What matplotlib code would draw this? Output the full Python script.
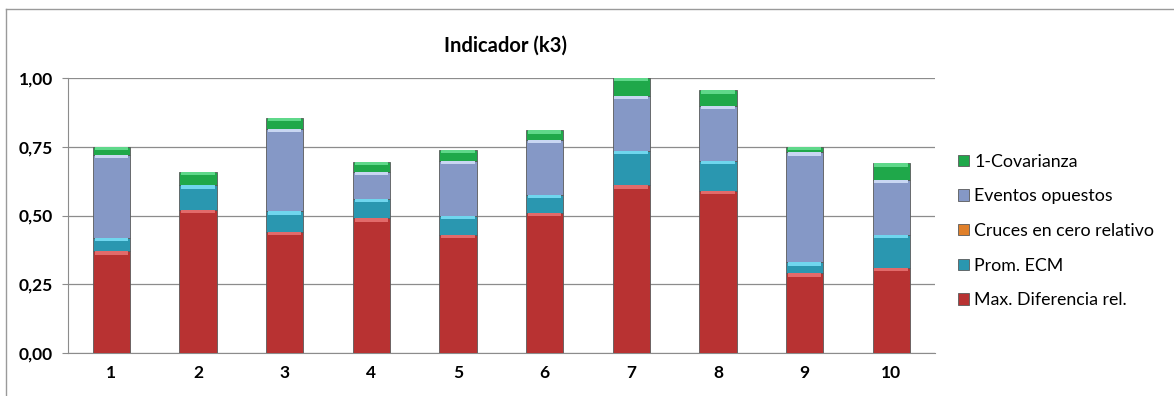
# Stacked bar chart of indicator k3 components per case
import matplotlib.pyplot as plt
import matplotlib.patches as mpatches
from matplotlib.lines import Line2D
import numpy as np

plt.rcParams['font.family'] = ['Lato', 'DejaVu Sans']

cases = ['1', '2', '3', '4', '5', '6', '7', '8', '9', '10']
max_dif = [0.37, 0.52, 0.44, 0.49, 0.43, 0.51, 0.61, 0.59, 0.29, 0.31]
prom_ecm = [0.05, 0.09, 0.075, 0.07, 0.07, 0.065, 0.125, 0.11, 0.04, 0.12]
cruces = [0, 0, 0, 0, 0, 0, 0, 0, 0, 0]
eventos = [0.30, 0, 0.30, 0.10, 0.20, 0.20, 0.20, 0.20, 0.40, 0.20]
covarianza = [0.03, 0.05, 0.04, 0.035, 0.04, 0.035, 0.065, 0.055, 0.02, 0.06]

series = [
    ('Max. Diferencia rel.', max_dif, '#B83232', '#E26A6A'),
    ('Prom. ECM', prom_ecm, '#2A97B0', '#6FD6EE'),
    ('Cruces en cero relativo', cruces, '#E0802A', '#F5B070'),
    ('Eventos opuestos', eventos, '#8598C6', '#C8D6F2'),
    ('1-Covarianza', covarianza, '#1FA84A', '#5FD88A'),
]

fig = plt.figure(figsize=(11.74, 3.96), dpi=100)
ax = fig.add_axes([0.058, 0.1086, 0.738, 0.6944])

x = np.arange(len(cases))
width = 0.43
bottom = np.zeros(len(cases))
cap = 0.012
for name, vals, col, light in series:
    vals = np.array(vals)
    ax.bar(x, vals, width, bottom=bottom, color=col,
           edgecolor='#5a5a5a', linewidth=0.6, zorder=3)
    # bevel highlight along the top of each segment
    hl = np.minimum(vals, cap)
    ax.bar(x, hl, width * 0.9, bottom=bottom + vals - hl, color=light,
           linewidth=0, zorder=4)
    bottom += vals

ax.set_xlim(-0.5, len(cases) - 0.5)
ax.set_ylim(0, 1.0)
ax.set_yticks([0, 0.25, 0.5, 0.75, 1.0])
ax.set_yticklabels(['0,00', '0,25', '0,50', '0,75', '1,00'],
                   fontsize=12.5, fontweight='bold')
ax.set_xticks(x)
ax.set_xticklabels(cases, fontsize=12.5, fontweight='bold')
ax.yaxis.grid(True, color='#8c8c8c', linewidth=0.9, zorder=0)
ax.set_axisbelow(True)
for s in ['top', 'right']:
    ax.spines[s].set_visible(False)
ax.spines['left'].set_color('#8c8c8c')
ax.spines['bottom'].set_color('#8c8c8c')
ax.tick_params(axis='y', length=4, color='#8c8c8c', pad=7)
ax.tick_params(axis='x', length=0, pad=9)

fig.text(0.431, 0.885, 'Indicador (k3)', ha='center', va='center',
         fontsize=14.5, fontweight='bold')

handles = [mpatches.Patch(facecolor=col, edgecolor='#5a5a5a', linewidth=0.6, label=name)
           for name, vals, col, light in series][::-1]
fig.legend(handles=handles, loc='upper left', bbox_to_anchor=(0.81, 0.63),
           frameon=False, fontsize=12.8, labelspacing=1.05, handlelength=0.6,
           handleheight=0.6, handletextpad=0.3, borderaxespad=0)

# outer chart frame (left and top edges)
fig.add_artist(Line2D([6 / 1174, 6 / 1174], [0, 1 - 9 / 396], color='#9a9a9a', linewidth=1))
fig.add_artist(Line2D([6 / 1174, 1], [1 - 9 / 396, 1 - 9 / 396], color='#9a9a9a', linewidth=1))

fig.savefig('out.png', dpi=100)
